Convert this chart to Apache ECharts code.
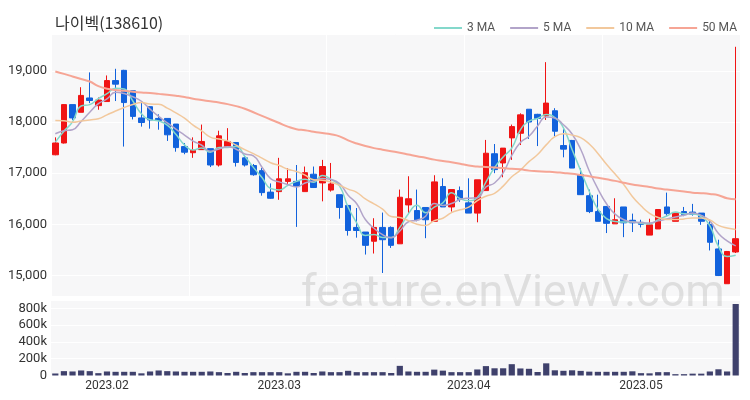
<!DOCTYPE html>
<html><head><meta charset="utf-8">
<script src="https://cdn.jsdelivr.net/npm/echarts@6/dist/echarts.min.js"></script>
<style>html,body{margin:0;padding:0;background:#fff}#c{width:750px;height:400px}</style>
</head><body><div id="c"></div>
<script>
const dates = [
'2023-01-20','2023-01-25','2023-01-26','2023-01-27','2023-01-30','2023-01-31',
'2023-02-01','2023-02-02','2023-02-03','2023-02-06','2023-02-07','2023-02-08','2023-02-09','2023-02-10','2023-02-13','2023-02-14','2023-02-15','2023-02-16','2023-02-17','2023-02-20','2023-02-21','2023-02-22','2023-02-23','2023-02-24','2023-02-27','2023-02-28',
'2023-03-02','2023-03-03','2023-03-06','2023-03-07','2023-03-08','2023-03-09','2023-03-10','2023-03-13','2023-03-14','2023-03-15','2023-03-16','2023-03-17','2023-03-20','2023-03-21','2023-03-22','2023-03-23','2023-03-24','2023-03-27','2023-03-28','2023-03-29','2023-03-30','2023-03-31',
'2023-04-03','2023-04-04','2023-04-05','2023-04-06','2023-04-07','2023-04-10','2023-04-11','2023-04-12','2023-04-13','2023-04-14','2023-04-17','2023-04-18','2023-04-19','2023-04-20','2023-04-21','2023-04-24','2023-04-25','2023-04-26','2023-04-27','2023-04-28',
'2023-05-02','2023-05-03','2023-05-04','2023-05-08','2023-05-09','2023-05-10','2023-05-11','2023-05-12','2023-05-15','2023-05-16','2023-05-17','2023-05-18'];

const opens  = [17360,17590,18340,18190,18470,18320,18400,18810,19010,18610,18080,18300,18070,18070,17960,17520,17400,17460,17480,17160,17520,17600,17300,17150,17050,16630,16640,16840,16840,16640,16980,16810,16670,16580,16370,15940,15850,15670,15940,15940,15620,16380,16270,16330,16060,16740,16340,16660,16420,16220,16660,17380,17200,17690,17780,18250,18150,18120,18220,17540,17640,16970,16560,16250,16350,16010,16340,16080,16040,15790,15910,16340,16060,16250,16240,16220,16000,15520,14840,15460];
const closes = [17590,18340,18080,18520,18420,18430,18810,18740,18380,18110,17990,18040,18030,17750,17500,17410,17450,17620,17160,17730,17620,17210,17160,16970,16620,16510,16890,16890,16740,17010,16720,17130,16790,16330,15880,15880,15590,15940,15700,15590,16530,16500,16090,16090,16830,16340,16680,16490,16220,16870,17390,17070,17490,17910,18140,18000,18070,18370,17820,17470,17100,16580,16250,16060,16020,16090,16030,16030,16000,15990,16290,16210,16220,16190,16200,16060,15650,15000,15470,15720];
const lows   = [17350,17580,18040,18190,18370,18240,18400,18410,17520,18050,17910,17870,17850,17630,17420,17370,17300,17460,17120,17130,17520,17130,17130,16950,16560,16500,16480,16790,15950,16640,16710,16450,16640,16110,15780,15740,15410,15430,15050,15540,15620,16220,16060,15730,16060,16340,16250,16440,16220,16040,16660,17000,16920,17260,17550,17670,17530,18040,17720,17310,17100,16580,16220,16060,15830,16010,15750,15850,15940,15790,15910,16160,16060,16160,16170,15990,15490,14990,14840,15440];
const highs  = [17700,18350,18340,18680,18970,18480,18910,19040,19020,18610,18400,18300,18150,18070,17960,17590,17700,17950,17480,17830,17880,17610,17330,17180,17100,16800,17300,17100,17160,17130,17130,17260,17200,16580,16370,16320,15850,16120,16230,15960,16680,16940,16680,16330,16960,16900,16680,16740,16900,16870,17650,17570,17490,17950,18170,18250,18160,19170,18270,17860,17650,17100,16680,16580,16350,16510,16340,16210,16090,16110,16290,16620,16220,16340,16400,16220,16100,15700,15480,19470];
const volumes = [24000,52000,48000,60000,52000,28000,48000,44000,44000,44000,26000,48000,60000,52000,48000,44000,44000,44000,48000,40000,30000,44000,30000,40000,40000,40000,40000,26000,44000,44000,30000,48000,40000,40000,56000,40000,40000,40000,40000,30000,115000,48000,44000,44000,70000,58000,40000,40000,40000,72000,112000,86000,86000,135000,84000,80000,42000,145000,62000,56000,62000,55000,46000,44000,44000,44000,44000,50000,28000,26000,40000,40000,16000,16000,22000,22000,48000,74000,48000,852000];
// closes of the nine sessions before the window (estimated from where the short MAs start)
const priorCloses = [18400,18350,18300,18200,18200,18050,17980,17700,17530];
// 50-day MA (needs history outside the window)
const ma50 = [18987,18940,18890,18840,18791,18700,18650,18625,18610,18590,18575,18565,18550,18535,18515,18490,18455,18430,18405,18380,18350,18310,18260,18190,18120,18050,17980,17910,17860,17840,17810,17785,17760,17720,17640,17580,17530,17490,17460,17430,17400,17365,17330,17300,17265,17240,17215,17185,17150,17130,17120,17110,17100,17085,17075,17050,17040,17030,17020,17005,16990,16965,16940,16910,16880,16850,16815,16780,16755,16730,16700,16680,16660,16640,16620,16610,16595,16570,16510,16490];
const yTicks = [15000,16000,17000,18000,19000];
const volTicks = [0,200000,400000,600000,800000];

function ma(n){
  const all = priorCloses.concat(closes);
  const off = priorCloses.length;
  return closes.map((_, i) => {
    const j = i + off;
    let s = 0;
    for (let k = j - n + 1; k <= j; k++) s += all[k];
    return +(s / n).toFixed(1);
  });
}
const candle = dates.map((_, i) => [opens[i], closes[i], lows[i], highs[i]]);
const UP = '#f01414', DOWN = '#1262dc';
const FONT = 'Roboto, "Noto Sans CJK KR", sans-serif';

const chart = echarts.init(document.getElementById('c'), null, {renderer: 'canvas'});
const firstOfMonth = (i) => i === 0 ? false : dates[i].slice(0,7) !== dates[i-1].slice(0,7);
chart.setOption({
  animation: false,
  backgroundColor: '#fff',
  textStyle: {fontFamily: FONT},
  title: {text: '나이벡(138610)', left: 50, top: 10,
    textStyle: {fontSize: 16, fontWeight: 'normal', color: '#333', fontFamily: '"Noto Sans CJK KR", sans-serif'}},
  legend: {right: 8, top: 17, itemWidth: 28, itemHeight: 2, itemGap: 15, icon: 'rect',
    textStyle: {fontSize: 12, color: '#555'},
    data: ['3 MA','5 MA','10 MA','50 MA']},
  graphic: [{type: 'text', left: 301, top: 272, z: 100, silent: true,
    style: {text: 'feature.enViewV.com', fontSize: 45, fontFamily: 'Roboto, sans-serif', fill: 'rgba(175,175,175,0.35)'}}],
  grid: [
    {left: 51, right: 10, top: 34, height: 262, backgroundColor: '#f7f7f8', show: true, borderWidth: 0},
    {left: 51, right: 10, top: 300, height: 75.5, backgroundColor: '#f7f7f8', show: true, borderWidth: 0}
  ],
  xAxis: [
    {type: 'category', data: dates, gridIndex: 0, boundaryGap: true,
      axisLine: {show: false}, axisTick: {show: false}, axisLabel: {show: false},
      splitLine: {show: true, interval: 15, lineStyle: {color: '#fff', width: 1}}},
    {type: 'category', data: dates, gridIndex: 1, boundaryGap: true,
      axisLine: {show: false}, axisTick: {show: false},
      axisLabel: {interval: (i) => firstOfMonth(i), formatter: (v) => v.slice(0,7).replace('-', '.'),
        fontSize: 12, color: '#333', margin: 4},
      splitLine: {show: false}}
  ],
  yAxis: [
    {type: 'value', gridIndex: 0, min: 14600, max: 19720, scale: true,
      axisLine: {show: false}, axisTick: {show: false},
      axisLabel: {showMinLabel: false, showMaxLabel: false, fontSize: 13, color: '#333', margin: 4,
        formatter: (v) => yTicks.includes(v) ? v.toLocaleString('en-US') : ''},
      splitLine: {lineStyle: {color: '#fff', width: 1}}},
    {type: 'value', gridIndex: 1, min: 0, max: 900000,
      axisLine: {show: false}, axisTick: {show: false},
      axisLabel: {showMaxLabel: false, fontSize: 13, color: '#333', margin: 4,
        formatter: (v) => volTicks.includes(v) ? (v === 0 ? '0' : (v/1000) + 'k') : ''},
      splitLine: {lineStyle: {color: '#fff', width: 1}}}
  ],
  series: [
    {name: 'price', type: 'candlestick', data: candle, xAxisIndex: 0, yAxisIndex: 0, barWidth: '70%',
      itemStyle: {color: UP, color0: DOWN, borderColor: UP, borderColor0: DOWN, borderWidth: 1}},
    {name: '3 MA', type: 'line', data: ma(3), showSymbol: false, smooth: true, lineStyle: {width: 1.5, color: '#84d8cb'}, itemStyle: {color: '#84d8cb'}},
    {name: '5 MA', type: 'line', data: ma(5), showSymbol: false, smooth: true, lineStyle: {width: 1.5, color: '#b2a4c9'}, itemStyle: {color: '#b2a4c9'}},
    {name: '10 MA', type: 'line', data: ma(10), showSymbol: false, smooth: true, lineStyle: {width: 1.5, color: '#f2c89c'}, itemStyle: {color: '#f2c89c'}},
    {name: '50 MA', type: 'line', data: ma50, showSymbol: false, smooth: true, lineStyle: {width: 2, color: '#f6a595'}, itemStyle: {color: '#f6a595'}},
    {name: 'volume', type: 'bar', data: volumes, xAxisIndex: 1, yAxisIndex: 1, barWidth: '72%',
      itemStyle: {color: '#3f416c'}}
  ]
});
</script></body></html>
